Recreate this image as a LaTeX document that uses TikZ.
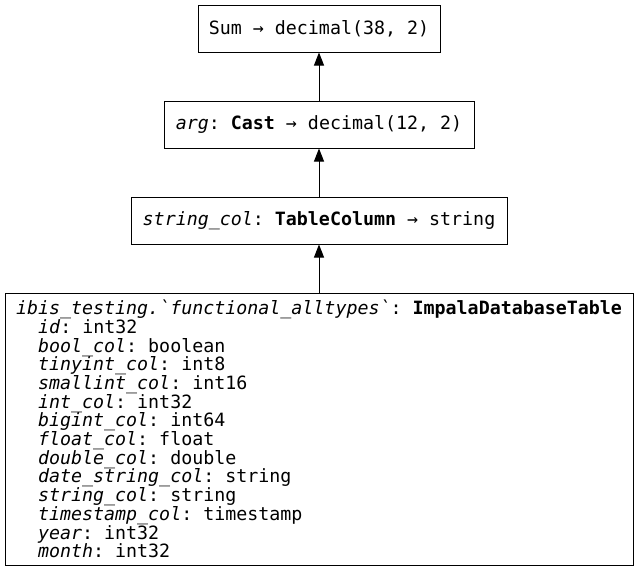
\documentclass[tikz,border=0pt]{standalone}
\usepackage{fontspec}
\setmonofont{DejaVu Sans Mono}[ItalicFont={DejaVu Sans Mono Oblique},BoldFont={DejaVu Sans Mono Bold}]
\usetikzlibrary{arrows.meta}
\begin{document}
\begin{tikzpicture}[x=1pt,y=-1pt,
  box/.style={draw,line width=1pt,minimum height=47pt,inner sep=0pt,font=\ttfamily\fontsize{18.3}{18.7}\selectfont},
  conn/.style={line width=1pt,-{Triangle[length=13pt,width=10pt]}}]
\useasboundingbox (0,0) rectangle (639,571);
\node[box,minimum width=242pt] (sum) at (319,28.5) {Sum → decimal(38, 2)};
\node[box,minimum width=310pt] (cast) at (319,124.5) {\textit{arg}: \textbf{Cast} → decimal(12, 2)};
\node[box,minimum width=376pt] (col) at (319,220.5) {\textit{string\_col}: \textbf{TableColumn} → string};
\node[box,minimum width=628pt,minimum height=272pt,align=left] (tab) at (319,429) {%
\textit{ibis\_testing.`functional\_alltypes`}: \textbf{ImpalaDatabaseTable}\\
\hphantom{xx}\textit{id}: int32\\
\hphantom{xx}\textit{bool\_col}: boolean\\
\hphantom{xx}\textit{tinyint\_col}: int8\\
\hphantom{xx}\textit{smallint\_col}: int16\\
\hphantom{xx}\textit{int\_col}: int32\\
\hphantom{xx}\textit{bigint\_col}: int64\\
\hphantom{xx}\textit{float\_col}: float\\
\hphantom{xx}\textit{double\_col}: double\\
\hphantom{xx}\textit{date\_string\_col}: string\\
\hphantom{xx}\textit{string\_col}: string\\
\hphantom{xx}\textit{timestamp\_col}: timestamp\\
\hphantom{xx}\textit{year}: int32\\
\hphantom{xx}\textit{month}: int32};
\draw[conn] (tab) -- (col);
\draw[conn] (col) -- (cast);
\draw[conn] (cast) -- (sum);
\end{tikzpicture}
\end{document}
